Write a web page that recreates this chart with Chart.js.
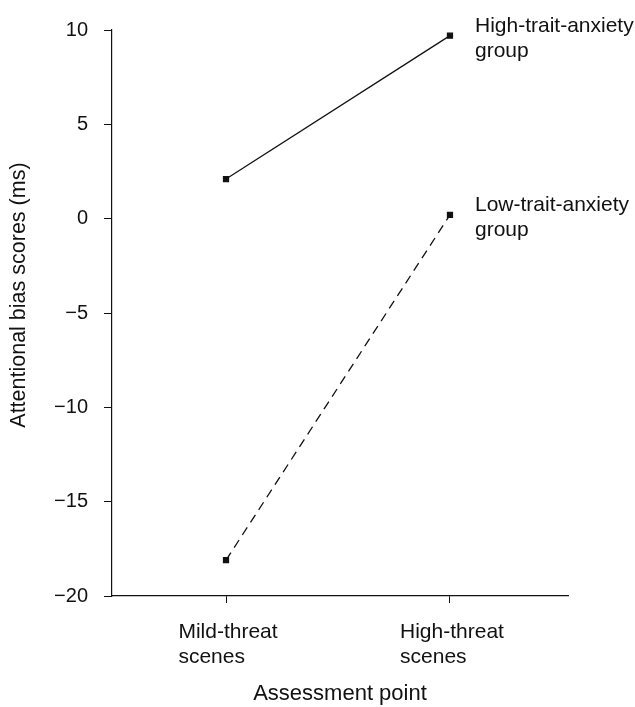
<!DOCTYPE html>
<html>
<head>
<meta charset="utf-8">
<script src="https://cdn.jsdelivr.net/npm/chart.js@4"></script>
<style>
  html, body { margin: 0; padding: 0; background: #fff; }
  #wrap { width: 635px; height: 707px; position: relative; }
</style>
</head>
<body>
<div id="wrap"><canvas id="biasChart"></canvas></div>
<script>
// data
const categories = [['Mild-threat', 'scenes'], ['High-threat', 'scenes']];
const highTrait = [2.1, 9.7];
const lowTrait = [-18.1, 0.2];
const seriesNames = [['High-trait-anxiety', 'group'], ['Low-trait-anxiety', 'group']];
const yMin = -20, yMax = 10, yStep = 5;

const FONT = 'Liberation Sans, Arial, Helvetica, sans-serif';
const INK = '#111';

// category index -> {x, y} so the points sit where the figure puts them
const toPoints = arr => arr.map((v, i) => ({ x: i, y: v }));

// x tick labels: block centred on the tick, lines left aligned
const xLabels = {
  id: 'xLabels',
  afterDraw(chart) {
    const ctx = chart.ctx;
    const xs = chart.scales.x;
    ctx.save();
    ctx.font = '21px ' + FONT;
    ctx.fillStyle = INK;
    ctx.textBaseline = 'alphabetic';
    ctx.textAlign = 'left';
    categories.forEach((lines, i) => {
      const px = xs.getPixelForValue(i);
      const w = Math.max(...lines.map(l => ctx.measureText(l).width));
      lines.forEach((l, j) => ctx.fillText(l, px - w / 2 + 2, xs.top + 42 + j * 25));
    });
    ctx.restore();
  }
};

// series names next to the last point
const endLabels = {
  id: 'endLabels',
  afterDatasetsDraw(chart) {
    const ctx = chart.ctx;
    ctx.save();
    ctx.font = '21px ' + FONT;
    ctx.fillStyle = INK;
    ctx.textAlign = 'left';
    ctx.textBaseline = 'alphabetic';
    chart.data.datasets.forEach((ds, i) => {
      const pts = chart.getDatasetMeta(i).data;
      const p = pts[pts.length - 1];
      seriesNames[i].forEach((l, j) => ctx.fillText(l, p.x + 25, p.y - 4 + j * 25));
    });
    ctx.restore();
  }
};

new Chart(document.getElementById('biasChart'), {
  type: 'line',
  data: {
    datasets: [
      {
        label: seriesNames[0].join(' '),
        data: toPoints(highTrait),
        borderColor: INK,
        borderWidth: 1.3,
        pointStyle: 'rect',
        pointRadius: 3.5,
        pointBackgroundColor: INK,
        pointBorderColor: INK,
        tension: 0
      },
      {
        label: seriesNames[1].join(' '),
        data: toPoints(lowTrait),
        borderColor: INK,
        borderWidth: 1.3,
        borderDash: [9, 6],
        pointStyle: 'rect',
        pointRadius: 3.5,
        pointBackgroundColor: INK,
        pointBorderColor: INK,
        tension: 0
      }
    ]
  },
  options: {
    responsive: true,
    maintainAspectRatio: false,
    animation: false,
    layout: { padding: { top: 30, right: 67, left: 0, bottom: 0 } },
    plugins: {
      legend: { display: false },
      tooltip: { enabled: false }
    },
    scales: {
      x: {
        type: 'linear',
        min: -0.509,
        max: 1.527,
        afterBuildTicks(scale) {
          scale.ticks = categories.map((c, i) => ({ value: i }));
        },
        grid: { drawOnChartArea: false, drawTicks: true, tickLength: 7, color: INK },
        border: { display: true, color: INK, width: 1.2 },
        ticks: { color: 'transparent', font: { size: 20, family: FONT }, callback: () => '' },
        title: {
          display: true,
          text: 'Assessment point',
          color: INK,
          font: { size: 22, family: FONT },
          padding: { top: 0, bottom: 0 }
        },
        afterFit(scale) { scale.height = 111; }
      },
      y: {
        min: yMin,
        max: yMax,
        grid: { drawOnChartArea: false, drawTicks: true, tickLength: 8, color: INK },
        border: { display: true, color: INK, width: 1.2 },
        ticks: {
          stepSize: yStep,
          color: INK,
          padding: 16,
          font: { size: 20, family: FONT },
          callback: v => String(v).replace('-', '\u2212')
        },
        title: {
          display: true,
          // leading spaces nudge the centred title up, as in the figure
          text: '      Attentional bias scores (ms)',
          color: INK,
          font: { size: 21.5, family: FONT },
          padding: { top: 6, bottom: 0 }
        },
        afterFit(scale) { scale.width = 112; }
      }
    }
  },
  plugins: [xLabels, endLabels]
});
</script>
</body>
</html>
